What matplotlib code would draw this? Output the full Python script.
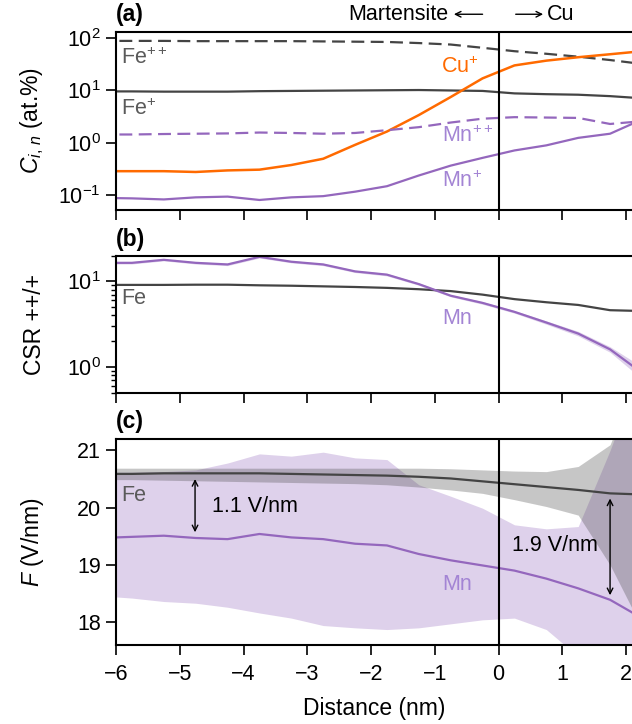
import numpy as np
import matplotlib
matplotlib.use("Agg")
import matplotlib.pyplot as plt
from matplotlib.ticker import NullLocator, LogLocator
import matplotlib.transforms as mtransforms

plt.rcParams['font.family'] = ['Liberation Sans', 'DejaVu Sans']
plt.rcParams['mathtext.fontset'] = 'custom'
plt.rcParams['mathtext.rm'] = 'Liberation Sans'
plt.rcParams['mathtext.it'] = 'Liberation Sans:italic'
plt.rcParams['mathtext.bf'] = 'Liberation Sans:bold'
plt.rcParams['axes.unicode_minus'] = True

# ---------------- data ----------------
distance = [-6.25, -5.75, -5.25, -4.75, -4.25, -3.75, -3.25, -2.75, -2.25,
            -1.75, -1.25, -0.75, -0.25, 0.25, 0.75, 1.25, 1.75, 2.25]

# panel (a): concentrations (at.%)
fe_pp = [88, 88, 88, 87, 87, 87, 87, 86, 85, 84, 80, 75, 65, 56, 50, 44, 38, 32]
fe_p = [9.6, 9.6, 9.5, 9.5, 9.5, 9.7, 9.8, 9.9, 10.0, 10.1, 10.2, 10.0, 9.8,
        8.8, 8.5, 8.3, 7.8, 7.1]
cu_p = [0.29, 0.29, 0.29, 0.28, 0.30, 0.31, 0.38, 0.50, 0.92, 1.65, 3.4, 7.5,
        17, 30, 37, 43, 49, 56]
mn_pp = [1.45, 1.45, 1.48, 1.50, 1.52, 1.58, 1.55, 1.50, 1.55, 1.75, 2.0, 2.45,
         2.9, 3.1, 3.05, 3.0, 2.3, 2.6]
mn_p = [0.090, 0.088, 0.084, 0.092, 0.095, 0.082, 0.092, 0.097, 0.118, 0.15,
        0.24, 0.37, 0.52, 0.72, 0.90, 1.25, 1.5, 2.8]

# panel (b): charge-state ratio ++/+
csr_fe = [9.1, 9.1, 9.1, 9.15, 9.15, 9.0, 8.9, 8.75, 8.6, 8.4, 8.1, 7.7, 7.0,
          6.2, 5.7, 5.3, 4.6, 4.5]
csr_mn = [16.5, 16.5, 17.9, 16.5, 15.8, 19.4, 17.0, 15.8, 13.1, 12.0, 9.3, 6.8,
          5.6, 4.4, 3.3, 2.45, 1.6, 0.85]
csr_mn_lo = [16.0, 16.0, 17.4, 16.0, 15.3, 18.8, 16.5, 15.3, 12.7, 11.6, 9.0,
             6.6, 5.4, 4.25, 3.15, 2.3, 1.48, 0.72]
csr_mn_hi = [17.0, 17.0, 18.4, 17.0, 16.3, 20.0, 17.5, 16.3, 13.5, 12.4, 9.6,
             7.0, 5.8, 4.55, 3.45, 2.6, 1.72, 1.0]

# panel (c): field strength (V/nm)
f_fe = [20.59, 20.59, 20.60, 20.60, 20.60, 20.60, 20.59, 20.58, 20.57, 20.56,
        20.54, 20.51, 20.46, 20.41, 20.36, 20.31, 20.25, 20.23]
f_fe_lo = [20.49, 20.49, 20.48, 20.47, 20.46, 20.45, 20.44, 20.43, 20.42,
           20.40, 20.36, 20.31, 20.25, 20.14, 20.02, 19.87, 19.0, 17.9]
f_fe_hi = [20.69, 20.69, 20.69, 20.69, 20.69, 20.69, 20.69, 20.69, 20.69,
           20.69, 20.69, 20.68, 20.66, 20.64, 20.63, 20.72, 21.1, 22.5]
f_mn = [19.47, 19.49, 19.51, 19.47, 19.45, 19.54, 19.48, 19.45, 19.37, 19.34,
        19.19, 19.08, 18.99, 18.90, 18.76, 18.59, 18.39, 18.07]
f_mn_lo = [18.46, 18.42, 18.36, 18.33, 18.26, 18.16, 18.07, 17.94, 17.90,
           17.87, 17.90, 17.97, 18.04, 18.07, 17.87, 17.4, 17.0, 16.5]
f_mn_hi = [20.62, 20.62, 20.63, 20.66, 20.78, 20.94, 20.90, 20.97, 20.87,
           20.84, 20.40, 20.20, 19.99, 19.70, 19.63, 19.67, 21.0, 22.5]

xticks = [-6, -5, -4, -3, -2, -1, 0, 1, 2]
xticklabels = ['\u22126', '\u22125', '\u22124', '\u22123', '\u22122', '\u22121',
               '0', '1', '2']

# ---------------- style ----------------
C_FE = '#444444'
C_FE_TXT = '#5a5a5a'
C_MN = '#9467bd'
C_MN_TXT = '#a384d4'
C_CU = '#ff6a00'
LW = 1.6
DASH = (5.8, 2.9)
FS = 15.5
FL = 16.5

fig = plt.figure(figsize=(6.32, 7.24), dpi=100)
left = 116 / 632
width = 1 - left
H = 724
def pos(top, bot):
    return [left, 1 - bot / H, width, (bot - top) / H]

ax_a = fig.add_axes(pos(32, 209.5))
ax_b = fig.add_axes(pos(255.7, 392.5))
ax_c = fig.add_axes(pos(439, 645))

x = np.array(distance)

# panel a
ax_a.plot(x, fe_pp, color=C_FE, lw=LW, dashes=DASH)
ax_a.plot(x, fe_p, color=C_FE, lw=LW)
ax_a.plot(x, cu_p, color=C_CU, lw=LW + 0.2)
ax_a.plot(x, mn_pp, color=C_MN, lw=LW, dashes=DASH)
ax_a.plot(x, mn_p, color=C_MN, lw=LW)
ax_a.set_yscale('log')
ax_a.set_ylim(0.054, 130)
ax_a.yaxis.set_minor_locator(NullLocator())
ax_a.set_ylabel(r'$C_{i,\,n}$ (at.%)', fontsize=FL)
ax_a.text(-5.92, 41, r'Fe$^{++}$', color=C_FE_TXT, fontsize=FS, va='center', ha='left')
ax_a.text(-5.92, 4.3, r'Fe$^{+}$', color=C_FE_TXT, fontsize=FS, va='center', ha='left')
ax_a.text(-0.6, 28, r'Cu$^{+}$', color=C_CU, fontsize=FS, va='center', ha='center')
ax_a.text(-0.88, 1.33, r'Mn$^{++}$', color=C_MN_TXT, fontsize=FS, va='center', ha='left')
ax_a.text(-0.88, 0.19, r'Mn$^{+}$', color=C_MN_TXT, fontsize=FS, va='center', ha='left')

trans_a = mtransforms.blended_transform_factory(ax_a.transData, ax_a.transAxes)
y_top = 1.1
ax_a.text(-0.78, y_top, 'Martensite', transform=trans_a, ha='right',
          va='center', fontsize=FS)
ax_a.annotate('', xy=(-0.70, y_top), xytext=(-0.25, y_top),
              xycoords=trans_a, textcoords=trans_a, annotation_clip=False,
              arrowprops=dict(arrowstyle='->', lw=1.0, color='black',
                              mutation_scale=10, shrinkA=0, shrinkB=0))
ax_a.annotate('', xy=(0.70, y_top), xytext=(0.27, y_top),
              xycoords=trans_a, textcoords=trans_a, annotation_clip=False,
              arrowprops=dict(arrowstyle='->', lw=1.0, color='black',
                              mutation_scale=10, shrinkA=0, shrinkB=0))
ax_a.text(0.76, y_top, 'Cu', transform=trans_a, ha='left',
          va='center', fontsize=FS)

# panel b
ax_b.fill_between(x, csr_mn_lo, csr_mn_hi, color=C_MN, alpha=0.3, lw=0)
ax_b.plot(x, csr_fe, color=C_FE, lw=LW)
ax_b.plot(x, csr_mn, color=C_MN, lw=LW)
ax_b.set_yscale('log')
ax_b.set_ylim(0.5, 20)
ax_b.yaxis.set_minor_locator(LogLocator(base=10, subs=np.arange(2, 10)))
ax_b.set_ylabel('CSR ++/+', fontsize=FL)
ax_b.text(-5.92, 6.3, 'Fe', color=C_FE_TXT, fontsize=FS, va='center', ha='left')
ax_b.text(-0.88, 3.68, 'Mn', color=C_MN_TXT, fontsize=FS, va='center', ha='left')

# panel c
ax_c.fill_between(x, f_mn_lo, f_mn_hi, color=C_MN, alpha=0.3, lw=0)
ax_c.fill_between(x, f_fe_lo, f_fe_hi, color=C_FE, alpha=0.3, lw=0)
ax_c.plot(x, f_fe, color=C_FE, lw=LW)
ax_c.plot(x, f_mn, color=C_MN, lw=LW)
ax_c.set_ylim(17.6, 21.2)
ax_c.set_yticks([18, 19, 20, 21])
ax_c.set_ylabel(r'$F$ (V/nm)', fontsize=FL)
ax_c.set_xlabel('Distance (nm)', fontsize=FL, labelpad=8)
ax_c.text(-5.92, 20.22, 'Fe', color=C_FE_TXT, fontsize=FS, va='center', ha='left')
ax_c.text(-0.88, 18.65, 'Mn', color=C_MN_TXT, fontsize=FS, va='center', ha='left')
ax_c.annotate('', xy=(-4.76, 19.57), xytext=(-4.76, 20.50),
              arrowprops=dict(arrowstyle='<->', color='black', lw=1.0,
                              shrinkA=0, shrinkB=0))
ax_c.text(-4.5, 20.02, '1.1 V/nm', fontsize=FS, va='center', ha='left')
ax_c.annotate('', xy=(1.75, 18.47), xytext=(1.75, 20.16),
              arrowprops=dict(arrowstyle='<->', color='black', lw=1.0,
                              shrinkA=0, shrinkB=0))
ax_c.text(0.21, 19.34, '1.9 V/nm', fontsize=FS, va='center', ha='left')

for ax, lab, off in [(ax_a, '(a)', 1.1), (ax_b, '(b)', 1.115), (ax_c, '(c)', 1.085)]:
    ax.set_xlim(-6, 2.094)
    ax.set_xticks(xticks)
    ax.axvline(0, color='black', lw=1.5, zorder=5)
    ax.spines['right'].set_visible(False)
    for s in ['left', 'top', 'bottom']:
        ax.spines[s].set_linewidth(1.5)
    ax.tick_params(which='major', length=7, width=1.2, labelsize=FS,
                   direction='out', pad=4)
    ax.tick_params(which='minor', length=3.5, width=1.0, direction='out')
    ax.tick_params(axis='x', which='major', pad=7)
    ax.text(0.0, off, lab, transform=ax.transAxes, fontsize=FL,
            fontweight='bold', ha='left', va='center')
    ax.yaxis.set_label_coords(-0.135, 0.5)

ax_a.tick_params(labelbottom=False)
ax_b.tick_params(labelbottom=False)
ax_c.set_xticklabels(xticklabels)

fig.savefig('out.png', dpi=100)
